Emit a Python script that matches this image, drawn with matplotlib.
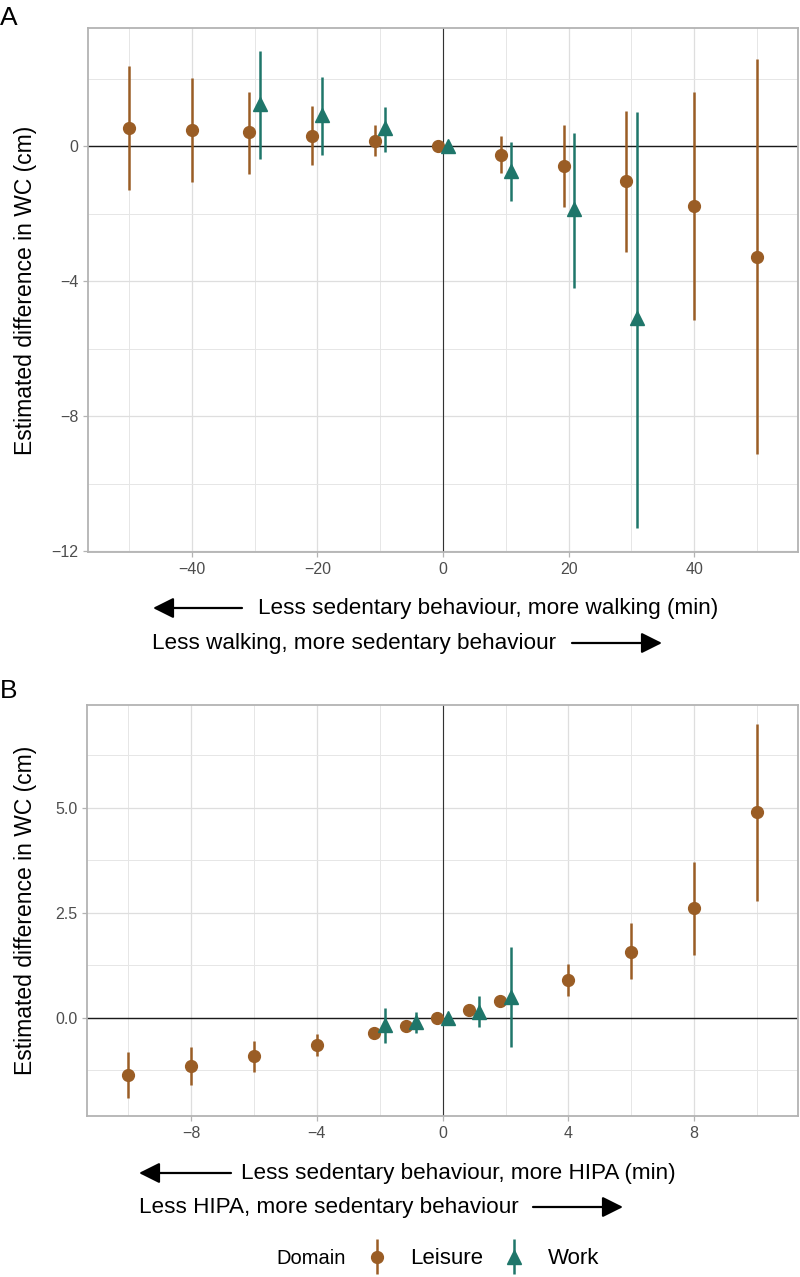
import matplotlib
matplotlib.use('Agg')
import matplotlib.pyplot as plt
import numpy as np
from matplotlib.container import ErrorbarContainer
from matplotlib.legend_handler import HandlerErrorbar

plt.rcParams['font.family'] = ['Liberation Sans', 'DejaVu Sans']

# panel A: sedentary behaviour <-> walking (min)
a_x_leisure = [-50, -40, -30, -20, -10, 0, 10, 20, 30, 40, 50]
a_est_leisure = [0.55, 0.48, 0.41, 0.31, 0.16, 0.0, -0.26, -0.58, -1.04, -1.77, -3.27]
a_lo_leisure = [-1.30, -1.06, -0.81, -0.56, -0.29, 0.0, -0.78, -1.79, -3.13, -5.15, -9.13]
a_hi_leisure = [2.38, 2.03, 1.62, 1.18, 0.62, 0.0, 0.29, 0.63, 1.05, 1.61, 2.58]

a_x_work = [-30, -20, -10, 0, 10, 20, 30]
a_est_work = [1.24, 0.92, 0.55, 0.0, -0.73, -1.87, -5.10]
a_lo_work = [-0.39, -0.27, -0.17, 0.0, -1.62, -4.20, -11.30]
a_hi_work = [2.82, 2.06, 1.15, 0.0, 0.14, 0.39, 1.00]

# panel B: sedentary behaviour <-> HIPA (min)
b_x_leisure = [-10, -8, -6, -4, -2, -1, 0, 1, 2, 4, 6, 8, 10]
b_est_leisure = [-1.35, -1.14, -0.90, -0.64, -0.35, -0.19, 0.0, 0.18, 0.40, 0.90, 1.58, 2.61, 4.90]
b_lo_leisure = [-1.90, -1.60, -1.29, -0.90, -0.45, -0.26, 0.0, 0.11, 0.27, 0.52, 0.92, 1.49, 2.79]
b_hi_leisure = [-0.80, -0.68, -0.54, -0.38, -0.25, -0.12, 0.0, 0.25, 0.53, 1.29, 2.25, 3.71, 7.00]

b_x_work = [-2, -1, 0, 1, 2]
b_est_work = [-0.17, -0.09, 0.0, 0.15, 0.51]
b_lo_work = [-0.60, -0.35, 0.0, -0.22, -0.70]
b_hi_work = [0.24, 0.14, 0.0, 0.52, 1.68]

c_leisure = '#9A5D25'
c_work = '#1F766A'
grid_col = '#DEDEDE'
frame_col = '#B3B3B3'
tick_text = '#4D4D4D'


def dodge(xs, others, w):
    # shift points sideways only where both domains share an x value
    return [x + w if x in others else x for x in xs]


def pointrange(ax, x, est, lo, hi, col, marker, ms):
    est = np.array(est)
    err = [est - np.array(lo), np.array(hi) - est]
    return ax.errorbar(x, est, yerr=err, fmt=marker, color=col, ecolor=col,
                       elinewidth=1.8, markersize=ms, capsize=0, zorder=3)


def style(ax, xmaj, xmin, ymaj, ymin, labx):
    ax.set_xticks(xmaj)
    ax.set_xticks(xmin, minor=True)
    ax.set_yticks(ymaj)
    ax.set_yticks(ymin, minor=True)
    ax.grid(which='major', color=grid_col, lw=0.9, zorder=0)
    ax.grid(which='minor', color='#E6E6E6', lw=0.7, zorder=0)
    ax.set_axisbelow(True)
    for s in ax.spines.values():
        s.set_color(frame_col)
        s.set_linewidth(1.3)
    ax.tick_params(which='major', length=3.5, color=frame_col, labelcolor=tick_text,
                   labelsize=11.5, width=0.9)
    ax.tick_params(which='minor', length=0)
    ax.axhline(0, color='#1A1A1A', lw=1.0, zorder=1)
    ax.axvline(0, color='#333333', lw=0.8, zorder=1)
    ax.set_ylabel('Estimated difference in WC (cm)', fontsize=16.5, color='black')
    ax.yaxis.set_label_coords(labx, 0.5)


fig = plt.figure(figsize=(8, 12.77), dpi=100)

axA = fig.add_axes([0.11, 0.5677, 0.8875, 0.4103])
pointrange(axA, dodge(a_x_leisure, a_x_work, -0.8), a_est_leisure, a_lo_leisure, a_hi_leisure,
           c_leisure, 'o', 8.5)
pointrange(axA, dodge(a_x_work, a_x_leisure, 0.8), a_est_work, a_lo_work, a_hi_work,
           c_work, '^', 10)
axA.set_xlim(-56.5, 56.5)
axA.set_ylim(-12.02, 3.5)
style(axA, [-40, -20, 0, 20, 40], [-50, -30, -10, 10, 30, 50], [-12, -8, -4, 0], [-10, -6, -2, 2], -0.072)

axB = fig.add_axes([0.109, 0.1262, 0.8885, 0.3218])
hl = pointrange(axB, dodge(b_x_leisure, b_x_work, -0.17), b_est_leisure, b_lo_leisure, b_hi_leisure,
                c_leisure, 'o', 8.5)
hw = pointrange(axB, dodge(b_x_work, b_x_leisure, 0.17), b_est_work, b_lo_work, b_hi_work,
                c_work, '^', 10)
axB.set_xlim(-11.3, 11.3)
axB.set_ylim(-2.33, 7.45)
style(axB, [-8, -4, 0, 4, 8], [-10, -6, -2, 2, 6, 10], [0.0, 2.5, 5.0], [-1.25, 1.25, 3.75, 6.25], -0.070)
axB.set_yticklabels(['0.0', '2.5', '5.0'])

fig.text(0.0, 0.986, 'A', fontsize=19, va='center', ha='left')
fig.text(0.0, 0.459, 'B', fontsize=19, va='center', ha='left')

H = 1277


def arrow_line(text, y, tx, ax0, ax1):
    yy = H - y
    fig.text(tx / 800, yy / H, text, fontsize=16.2, va='center', ha='left')
    fig.add_artist(matplotlib.patches.FancyArrowPatch(
        (ax0 / 800, yy / H), (ax1 / 800, yy / H), transform=fig.transFigure,
        arrowstyle='-|>,head_length=0.9,head_width=0.45', mutation_scale=14,
        color='black', lw=1.6, shrinkA=0, shrinkB=0))


arrow_line('Less sedentary behaviour, more walking (min)', 608, 258, 242, 153)
arrow_line('Less walking, more sedentary behaviour', 643, 152, 572, 662)
arrow_line('Less sedentary behaviour, more HIPA (min)', 1173, 241, 231, 139)
arrow_line('Less HIPA, more sedentary behaviour', 1207, 139, 533, 623)

# legend
fig.text(276 / 800, (H - 1259) / H, 'Domain', fontsize=14.5, va='center', ha='left')
fig.legend([hl, hw], ['Leisure', 'Work'], loc='center left',
           bbox_to_anchor=(339 / 800, (H - 1259) / H), ncol=2, frameon=False,
           fontsize=16, handlelength=1.6, columnspacing=0.6, handletextpad=0.7,
           handler_map={ErrorbarContainer: HandlerErrorbar(xerr_size=0.5, yerr_size=0.79)})

fig.savefig('out.png', dpi=100)
